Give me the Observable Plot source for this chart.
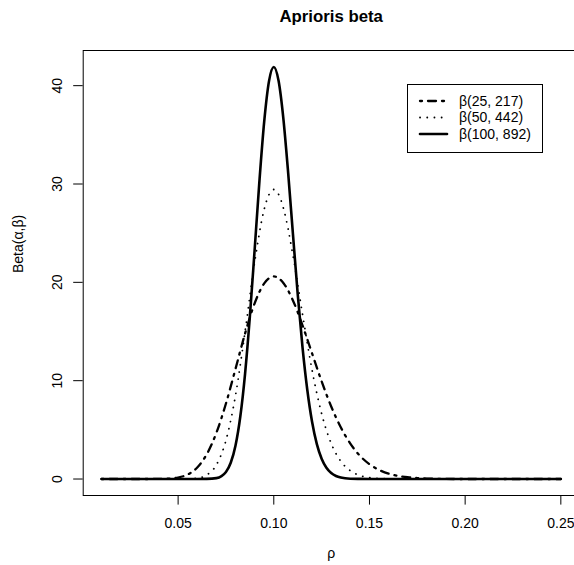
<!DOCTYPE html>
<html>
<head>
<meta charset="utf-8">
<script src="https://cdn.jsdelivr.net/npm/d3@7"></script>
<script src="https://cdn.jsdelivr.net/npm/@observablehq/plot@0.6"></script>
<style>
html, body { margin: 0; padding: 0; background: #fff; overflow: hidden; }
#chart { width: 574px; height: 565px; overflow: hidden; position: relative; }
#chart svg { max-width: none !important; }
</style>
</head>
<body>
<div id="chart"></div>
<script>
// ---- text ----
const chartTitle = "Aprioris beta";
const xLabel = "ρ";
const yLabel = "Beta(α,β)";
const seriesNames = ["β(25, 217)", "β(50, 442)", "β(100, 892)"];

// ---- ticks ----
const xTicks = [0.05, 0.10, 0.15, 0.20, 0.25];
const yTicks = [0, 10, 20, 30, 40];

// ---- series 1: β(25, 217), dot-dash ----
const rho1 = [0.01, 0.03, 0.04, 0.045, 0.05, 0.055, 0.06, 0.065, 0.07, 0.075, 0.08, 0.085, 0.09, 0.095,
              0.10, 0.105, 0.11, 0.115, 0.12, 0.125, 0.13, 0.135, 0.14, 0.145, 0.15, 0.155, 0.16, 0.165,
              0.17, 0.175, 0.18, 0.19, 0.20, 0.25];
const dens1 = [0, 0, 0.01, 0.04, 0.15, 0.46, 1.17, 2.53, 4.70, 7.68, 11.21, 14.81, 17.87, 19.90,
               20.60, 19.94, 18.16, 15.63, 12.77, 9.93, 7.38, 5.26, 3.60, 2.37, 1.51, 0.93, 0.55, 0.32,
               0.18, 0.10, 0.05, 0.01, 0, 0];

// ---- series 2: β(50, 442), dotted ----
const rho2 = [0.01, 0.045, 0.05, 0.055, 0.06, 0.065, 0.07, 0.075, 0.08, 0.085, 0.09, 0.095, 0.0975,
              0.10, 0.1025, 0.105, 0.11, 0.115, 0.12, 0.125, 0.13, 0.135, 0.14, 0.145, 0.15, 0.155,
              0.16, 0.17, 0.25];
const dens2 = [0, 0, 0, 0.01, 0.08, 0.41, 1.44, 3.93, 8.51, 15.00, 22.04, 27.44, 28.93,
               29.44, 28.95, 27.56, 22.77, 16.76, 11.08, 6.64, 3.62, 1.81, 0.84, 0.36, 0.14, 0.05,
               0.02, 0, 0];

// ---- series 3: β(100, 892), solid ----
const rho3 = [0.01, 0.06, 0.065, 0.07, 0.075, 0.0775, 0.08, 0.0825, 0.085, 0.0875, 0.09, 0.0925, 0.095,
              0.0975, 0.10, 0.1025, 0.105, 0.1075, 0.11, 0.1125, 0.115, 0.1175, 0.12, 0.1225, 0.125,
              0.1275, 0.13, 0.1325, 0.135, 0.14, 0.145, 0.15, 0.25];
const dens3 = [0, 0, 0.01, 0.09, 0.72, 1.65, 3.41, 6.36, 10.73, 16.53, 23.34, 30.31, 36.36,
               40.46, 41.90, 40.49, 36.66, 31.16, 24.93, 18.81, 13.42, 9.08, 5.82, 3.55, 2.07,
               1.15, 0.61, 0.31, 0.15, 0.03, 0.01, 0, 0];

// ---- build tables ----
const toRows = (xs, ys) => xs.map((x, i) => ({rho: x, dens: ys[i]}));
const s1 = toRows(rho1, dens1);
const s2 = toRows(rho2, dens2);
const s3 = toRows(rho3, dens3);

const styles = [
  {strokeWidth: 2.3, strokeDasharray: "2 6 8 6", strokeLinecap: "round"},
  {strokeWidth: 1.8, strokeDasharray: "0.1 7.1", strokeLinecap: "round"},
  {strokeWidth: 2.6, strokeDasharray: null, strokeLinecap: "round"}
];

const allX = [...rho1, ...rho2, ...rho3];
const allY = [...dens1, ...dens2, ...dens3];
const xmin = d3.min(allX), xmax = d3.max(allX);
const ymin = d3.min(allY), ymax = d3.max(allY);
const xpad = (xmax - xmin) * 0.04, ypad = (ymax - ymin) * 0.04;

const font = "'Liberation Sans', Arial, Helvetica, sans-serif";

const lineOpts = (st) => {
  const o = {x: "rho", y: "dens", stroke: "black", strokeWidth: st.strokeWidth,
             strokeLinecap: st.strokeLinecap, strokeLinejoin: "round", curve: "monotone-x"};
  if (st.strokeDasharray) o.strokeDasharray = st.strokeDasharray;
  return o;
};

const plot = Plot.plot({
  width: 589,
  height: 565,
  marginLeft: 82.7,
  marginRight: 10.3,
  marginTop: 50,
  marginBottom: 70,
  style: {fontFamily: font, fontSize: "14px", background: "white", overflow: "visible", color: "black", maxWidth: "none"},
  x: {domain: [xmin - xpad, xmax + xpad]},
  y: {domain: [ymin - ypad, ymax + ypad]},
  marks: [
    Plot.frame({stroke: "black", strokeWidth: 1}),
    Plot.line(s1, lineOpts(styles[0])),
    Plot.line(s2, lineOpts(styles[1])),
    Plot.line(s3, lineOpts(styles[2])),
    Plot.axisX({ticks: xTicks, tickSize: 9.6, tickPadding: 12.8, fontSize: 14, label: null,
                tickFormat: d3.format(".2f"), stroke: "black", fill: "black"}),
    Plot.axisY({ticks: yTicks, tickSize: 9.5, tickPadding: 11.2, tickRotate: -90,
                textAnchor: "middle", lineAnchor: "bottom", fontSize: 14, label: null,
                tickFormat: d => String(d), stroke: "black", fill: "black"}),
    Plot.text([chartTitle], {frameAnchor: "top", dy: -34.3, lineAnchor: "middle",
                             fontWeight: "bold", fontSize: 16.8, fill: "black"}),
    Plot.text([xLabel], {frameAnchor: "bottom", dy: 62, lineAnchor: "bottom", fontSize: 14, fill: "black"}),
    Plot.text([yLabel], {frameAnchor: "left", dx: -64.4, rotate: -90, lineAnchor: "middle", fontSize: 14, fill: "black"})
  ]
});

document.getElementById("chart").appendChild(plot);

// ---- legend (drawn in pixel space on the same svg) ----
const svg = d3.select(plot);
const lg = svg.append("g").attr("font-family", font).attr("font-size", 14);
lg.append("rect").attr("x", 407.5).attr("y", 84.5).attr("width", 135).attr("height", 68)
  .attr("fill", "white").attr("stroke", "black").attr("stroke-width", 1);
const rowY = [101, 117.5, 134];
seriesNames.forEach((name, i) => {
  const st = styles[i];
  const ln = lg.append("line").attr("x1", 420).attr("x2", 447).attr("y1", rowY[i]).attr("y2", rowY[i])
    .attr("stroke", "black").attr("stroke-width", st.strokeWidth).attr("stroke-linecap", st.strokeLinecap);
  if (st.strokeDasharray) ln.attr("stroke-dasharray", st.strokeDasharray);
  lg.append("text").attr("x", 459).attr("y", rowY[i]).attr("dy", "0.35em")
    .attr("text-anchor", "start").attr("fill", "black").text(name);
});
</script>
</body>
</html>
